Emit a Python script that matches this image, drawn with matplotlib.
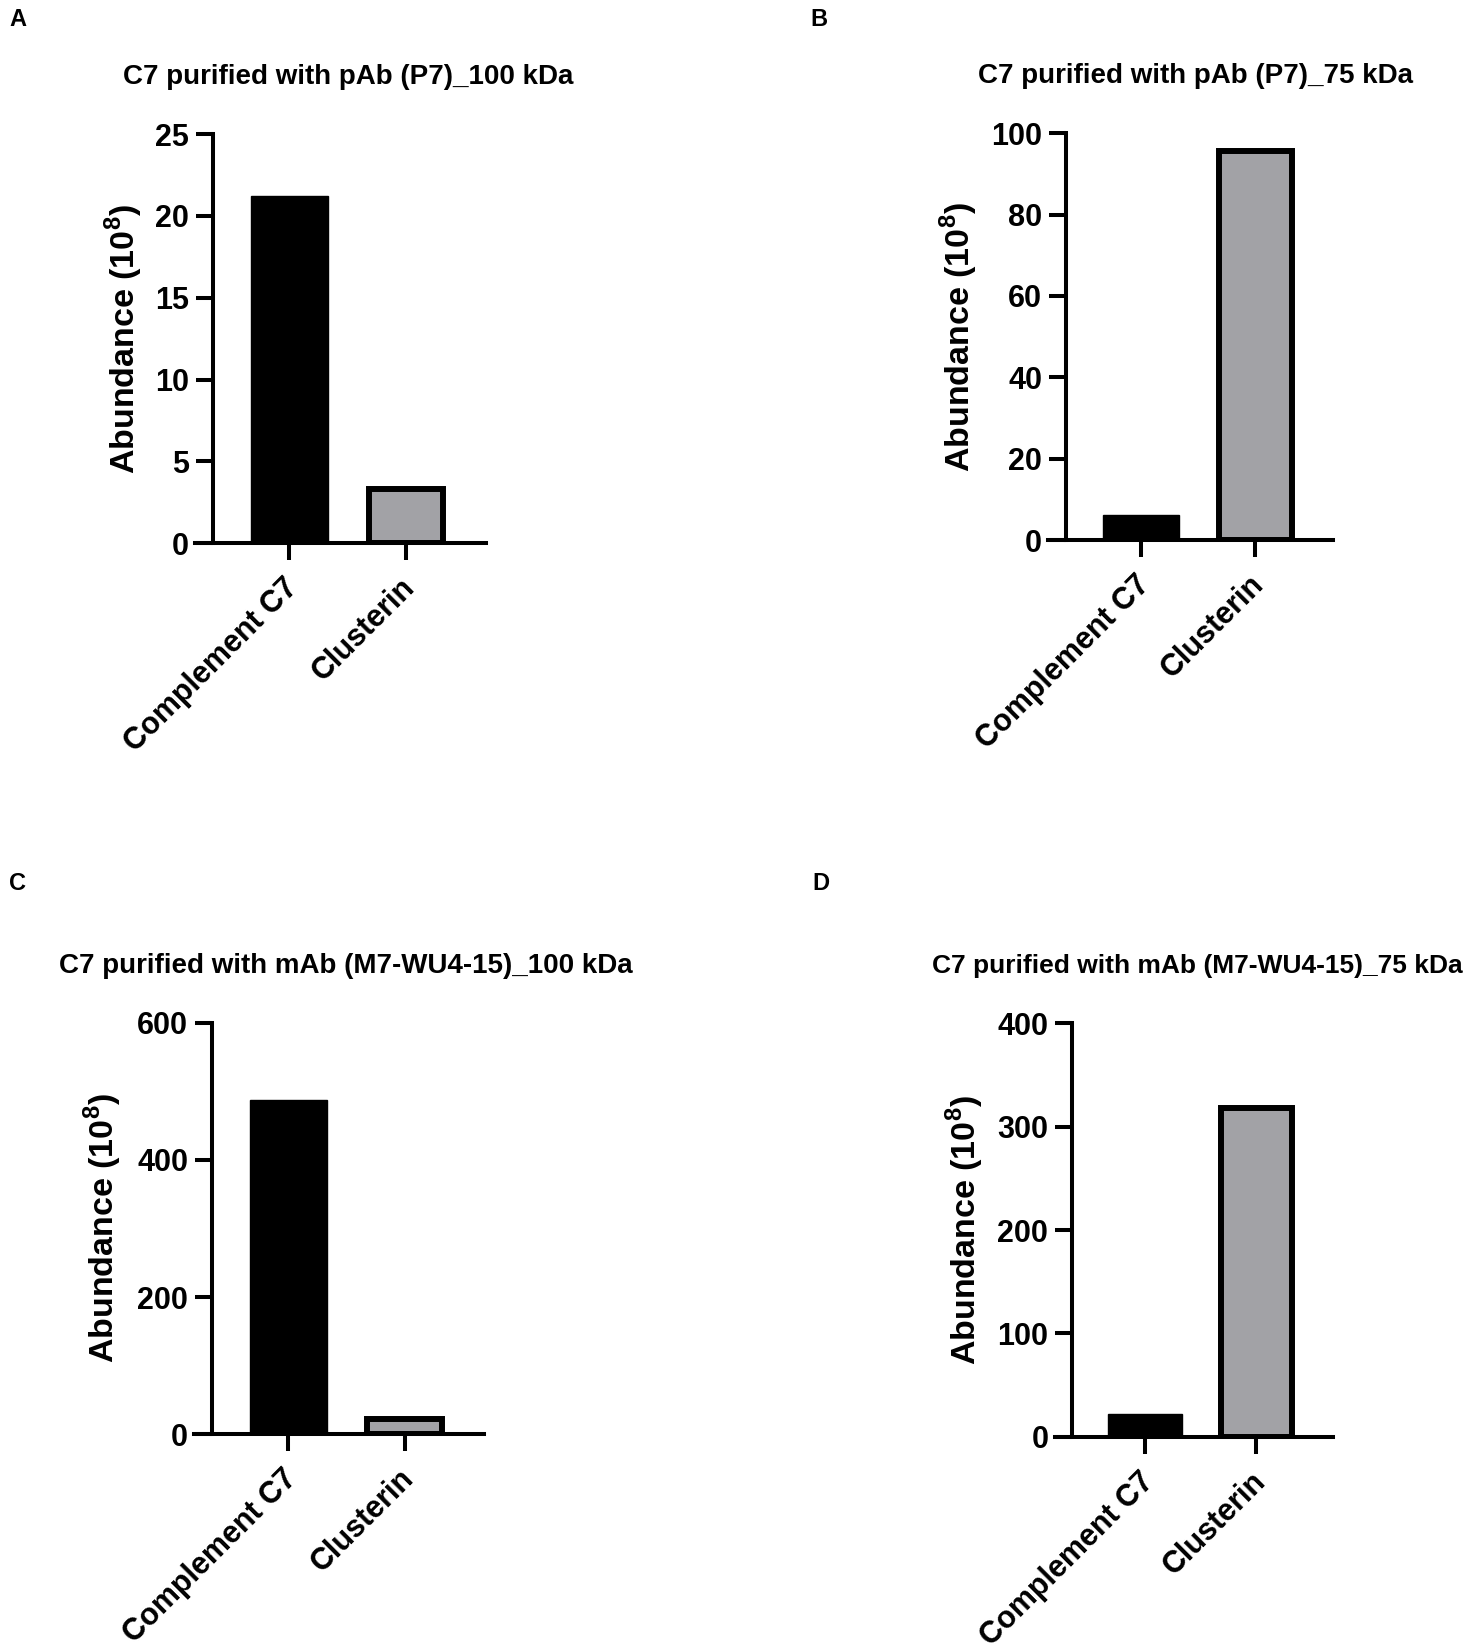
import numpy as np
import matplotlib
matplotlib.use("Agg")
import matplotlib.pyplot as plt
import matplotlib.transforms as mtransforms

plt.rcParams['font.family'] = ['Liberation Sans', 'DejaVu Sans']
plt.rcParams['font.weight'] = 'bold'
plt.rcParams['mathtext.fontset'] = 'custom'
plt.rcParams['mathtext.rm'] = 'Liberation Sans:bold'
plt.rcParams['mathtext.bf'] = 'Liberation Sans:bold'

categories = ['Complement C7', 'Clusterin']
vals_a = [21.2, 3.3]
vals_b = [6.2, 95.6]
vals_c = [488, 23]
vals_d = [22, 318]

titles = ['C7 purified with pAb (P7)_100 kDa',
          'C7 purified with pAb (P7)_75 kDa',
          'C7 purified with mAb (M7-WU4-15)_100 kDa',
          'C7 purified with mAb (M7-WU4-15)_75 kDa']
letters = ['A', 'B', 'C', 'D']
yticks = [np.arange(0, 26, 5), np.arange(0, 101, 20),
          np.arange(0, 601, 200), np.arange(0, 401, 100)]

W, H = 1472, 1652
fig = plt.figure(figsize=(W / 100, H / 100), dpi=100)

# axes boxes in pixels: left, right, top, bottom
boxes = [(195, 486, 134, 543.3),
         (1048.3, 1333.3, 133.3, 540),
         (194, 484.3, 1022.7, 1434.3),
         (1055, 1332.7, 1023.3, 1436.7)]
title_x = [0.526, 0.515, 0.524, 0.513]
title_size = [20, 20, 20, 19]
label_x = [-0.244, -0.313, -0.313, -0.324]
letter_pos = [(9, 20), (810, 20), (9, 883), (812, 883)]

black = '#000000'
grey = '#a2a2a6'

for i, vals in enumerate([vals_a, vals_b, vals_c, vals_d]):
    l, r, t, b = boxes[i]
    ax = fig.add_axes([l / W, 1 - b / H, (r - l) / W, (b - t) / H])
    x = np.arange(len(categories))
    ax.bar(x[0], vals[0], 0.66, color=black, edgecolor=black, linewidth=1)
    ax.bar(x[1], vals[1], 0.64, color=grey, edgecolor=black, linewidth=4.3)

    ax.set_xlim(-0.81, 1.685)
    ax.set_ylim(0, yticks[i][-1])
    ax.spines['left'].set_position(('data', -0.655))
    ax.spines['top'].set_visible(False)
    ax.spines['right'].set_visible(False)
    for s in ['left', 'bottom']:
        ax.spines[s].set_linewidth(2.9)

    ax.set_yticks(yticks[i])
    ax.set_xticks(x)
    ax.set_xticklabels(categories, rotation=45, ha='right', va='top',
                       rotation_mode='anchor')
    ax.tick_params(axis='both', direction='out', length=12.2, width=2.9,
                   labelsize=22, pad=5)
    ax.tick_params(axis='x', pad=9)
    shift = mtransforms.ScaledTranslation(-6 / 100, 0, fig.dpi_scale_trans)
    for lab in ax.get_xticklabels():
        lab.set_transform(lab.get_transform() + shift)

    ax.set_ylabel(r'Abundance (10$^{\mathbf{8}}$)', fontsize=24.5,
                  fontweight='bold', va='center')
    ax.yaxis.set_label_coords(label_x[i], 0.5)
    ax.set_title(titles[i], fontsize=title_size[i], fontweight='bold',
                 x=title_x[i], pad=36)

    fig.text(letter_pos[i][0] / W, 1 - letter_pos[i][1] / H, letters[i],
             fontsize=17, fontweight='bold', ha='left', va='center')

fig.savefig('out.png', dpi=100)
